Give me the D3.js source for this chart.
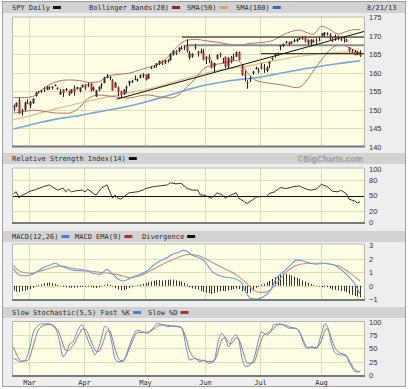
<!DOCTYPE html>
<html>
<head>
<meta charset="utf-8">
<script src="https://cdn.jsdelivr.net/npm/d3@7"></script>
<style>
  html, body { margin: 0; padding: 0; background: #fff; }
  svg { display: block; }
</style>
</head>
<body>
<div id="chart"></div>
<script>
// ---- data (SPY daily, 2/21/13 - 8/21/13) ----
const dates = [
  "2013-02-21","2013-02-22","2013-02-25","2013-02-26","2013-02-27","2013-02-28",
  "2013-03-01","2013-03-04","2013-03-05","2013-03-06","2013-03-07","2013-03-08","2013-03-11","2013-03-12","2013-03-13","2013-03-14",
  "2013-03-15","2013-03-18","2013-03-19","2013-03-20","2013-03-21","2013-03-22","2013-03-25","2013-03-26","2013-03-27","2013-03-28",
  "2013-04-01","2013-04-02","2013-04-03","2013-04-04","2013-04-05","2013-04-08","2013-04-09","2013-04-10","2013-04-11","2013-04-12",
  "2013-04-15","2013-04-16","2013-04-17","2013-04-18","2013-04-19","2013-04-22","2013-04-23","2013-04-24","2013-04-25","2013-04-26",
  "2013-04-29","2013-04-30",
  "2013-05-01","2013-05-02","2013-05-03","2013-05-06","2013-05-07","2013-05-08","2013-05-09","2013-05-10","2013-05-13","2013-05-14",
  "2013-05-15","2013-05-16","2013-05-17","2013-05-20","2013-05-21","2013-05-22","2013-05-23","2013-05-24","2013-05-28","2013-05-29",
  "2013-05-30","2013-05-31",
  "2013-06-03","2013-06-04","2013-06-05","2013-06-06","2013-06-07","2013-06-10","2013-06-11","2013-06-12","2013-06-13","2013-06-14",
  "2013-06-17","2013-06-18","2013-06-19","2013-06-20","2013-06-21","2013-06-24","2013-06-25","2013-06-26","2013-06-27","2013-06-28",
  "2013-07-01","2013-07-02","2013-07-03","2013-07-05","2013-07-08","2013-07-09","2013-07-10","2013-07-11","2013-07-12","2013-07-15",
  "2013-07-16","2013-07-17","2013-07-18","2013-07-19","2013-07-22","2013-07-23","2013-07-24","2013-07-25","2013-07-26","2013-07-29",
  "2013-07-30","2013-07-31",
  "2013-08-01","2013-08-02","2013-08-05","2013-08-06","2013-08-07","2013-08-08","2013-08-09","2013-08-12","2013-08-13","2013-08-14",
  "2013-08-15","2013-08-16","2013-08-19","2013-08-20","2013-08-21"
];

const open = [
  151.2,151.0,152.6,149.7,150.0,152.0,
  151.1,151.8,153.7,154.9,154.9,155.9,155.4,156.1,156.0,156.6,155.9,154.1,155.5,155.4,155.0,154.5,156.0,155.6,155.0,156.1,
  156.8,156.6,157.1,155.4,153.6,155.4,156.5,157.2,158.6,158.7,158.0,156.0,156.1,155.1,154.2,155.8,157.1,157.4,158.2,158.1,158.7,159.3,
  159.4,158.4,161.2,161.6,162.0,162.4,163.2,162.8,163.2,163.4,164.8,165.9,165.9,166.5,166.9,167.4,164.1,164.4,167.0,165.8,165.4,165.5,
  163.9,164.4,163.0,161.6,163.8,165.2,163.0,164.4,161.7,164.0,164.1,164.4,165.6,161.6,159.6,157.4,158.3,159.9,161.0,160.6,
  161.9,161.1,160.5,162.5,163.7,164.8,165.0,167.1,167.3,168.2,168.4,168.2,168.5,168.6,169.4,169.6,169.9,168.0,168.0,168.8,168.8,169.0,
  169.9,170.3,170.8,170.4,169.2,169.5,169.7,168.9,169.4,169.0,167.0,165.9,165.7,164.9,165.1
];
const high = [
  151.4,152.0,153.3,150.3,152.2,152.8,
  152.4,153.1,154.9,155.1,155.3,156.1,156.3,156.4,156.4,156.9,156.1,155.6,155.6,155.9,155.2,155.6,156.6,156.2,156.1,156.9,
  156.9,157.3,157.2,156.3,155.4,156.3,157.3,158.9,159.7,159.1,158.3,157.5,156.3,155.2,155.6,156.6,157.9,158.1,159.3,158.5,159.6,159.9,
  159.6,159.8,161.8,162.0,162.6,163.3,163.4,163.5,163.7,165.2,166.1,166.2,166.9,167.4,167.5,169.1,165.9,165.3,167.8,166.0,166.6,166.4,
  164.5,165.0,163.4,162.7,165.1,165.5,164.1,164.4,164.3,164.6,165.2,165.8,165.8,162.2,160.6,158.0,159.1,160.5,161.7,161.4,
  162.6,162.4,161.8,163.0,164.2,165.4,165.5,167.6,167.9,168.6,168.5,168.6,169.2,169.3,169.6,169.9,169.9,169.1,169.1,169.1,169.4,169.8,
  170.8,171.0,171.0,170.7,169.6,170.4,170.1,169.4,169.9,169.3,167.0,166.4,166.2,165.9,166.1
];
const low = [
  149.6,150.7,148.9,148.4,149.6,151.5,
  150.4,151.6,153.6,154.4,154.6,154.8,155.3,155.4,155.5,156.4,155.4,154.1,153.5,155.0,153.7,154.4,153.8,155.5,154.7,156.0,
  155.4,156.1,154.9,155.1,153.5,155.0,155.7,157.2,158.5,158.0,155.2,156.0,153.6,153.4,154.1,154.6,156.4,157.3,158.0,157.6,158.5,158.6,
  158.0,158.4,161.0,161.3,161.4,162.1,162.1,162.4,162.8,163.3,164.7,164.8,165.6,166.3,166.2,165.5,163.6,164.1,166.3,164.4,165.2,163.4,
  162.4,162.7,161.2,160.2,163.6,164.2,162.6,161.3,161.1,162.6,163.4,164.3,163.4,159.2,157.7,155.7,157.5,159.5,160.9,159.9,
  160.9,160.0,160.2,161.3,163.4,164.1,164.6,166.2,167.0,167.9,167.3,167.8,168.2,168.3,168.9,169.0,168.2,167.5,167.3,168.2,167.9,168.5,
  169.9,169.8,170.1,168.9,168.3,168.7,168.8,168.6,168.2,168.3,165.6,165.5,164.8,164.8,164.3
];
const close = [
  150.4,151.9,149.0,149.8,151.9,151.6,
  152.1,153.0,154.6,154.7,155.2,155.5,156.3,156.0,156.2,156.7,155.6,154.9,154.5,155.6,154.0,155.6,154.9,156.2,156.0,156.7,
  156.0,157.0,155.3,156.0,155.3,156.3,156.8,158.7,159.2,158.8,155.2,157.4,154.9,154.0,155.5,156.2,157.8,157.8,158.4,158.2,159.3,159.7,
  158.0,159.7,161.4,161.7,162.6,163.3,162.5,163.4,163.4,165.2,166.0,165.2,166.9,166.7,167.2,165.9,165.4,165.2,166.9,165.2,165.9,163.5,
  164.3,163.6,161.3,162.7,164.8,164.8,163.1,161.7,164.0,162.9,164.4,165.6,163.5,159.4,159.1,157.1,158.6,160.4,161.3,160.4,
  161.3,161.2,161.4,163.0,164.0,165.2,165.2,167.5,167.9,168.5,167.8,168.3,168.9,169.2,169.5,169.1,168.5,168.9,169.0,168.4,168.6,168.7,
  170.7,171.0,170.7,169.6,168.7,169.9,169.3,169.1,169.3,168.4,166.0,165.6,164.8,165.4,164.6
];

// overlays: [day index, value]
const bbUpper = [[0,153.3],[4,153.3],[7,153.6],[10,155.3],[13,156.8],[16,157.7],[20,158.1],[24,157.9],[28,157.4],[31,157.6],
  [34,159.0],[38,159.6],[42,159.9],[46,160.8],[50,161.7],[54,162.9],[57,165.0],[60,167.5],[63,168.8],[66,169.1],[70,168.7],
  [74,168.3],[78,167.8],[82,167.5],[86,168.0],[90,168.2],[94,168.7],[98,170.3],[101,171.2],[104,171.6],[107,170.8],[109,170.4],
  [112,172.6],[115,171.8],[118,170.5],[121,171.2],[124,171.7],[126,171.7]];
const bbLower = [[0,149.1],[4,149.5],[7,149.9],[11,149.6],[16,149.1],[20,149.1],[24,150.6],[27,153.0],[31,154.0],[35,153.7],
  [39,153.3],[42,153.2],[46,153.8],[49,154.0],[53,153.5],[57,153.2],[60,154.0],[63,156.2],[66,158.3],[69,161.0],[72,162.0],
  [77,162.7],[81,163.4],[83,162.5],[85,160.2],[88,158.0],[93,157.2],[98,156.7],[103,156.0],[105,156.6],[107,158.3],[109,160.5],
  [112,163.5],[115,166.2],[118,167.4],[120,167.4],[122,166.8],[126,165.4]];
const sma50 = [[0,147.3],[5,148.2],[10,149.2],[15,150.2],[20,151.1],[25,152.0],[30,152.8],[35,153.6],[40,154.3],[45,155.0],
  [50,155.8],[55,156.8],[60,157.9],[65,159.0],[70,160.0],[75,160.8],[80,161.4],[85,161.8],[90,162.6],[95,163.3],[100,164.0],
  [105,164.6],[110,165.0],[115,165.4],[120,165.6],[126,165.6]];
const sma100 = [[0,144.8],[5,145.7],[10,146.6],[15,147.4],[20,148.0],[25,148.6],[30,149.3],[35,150.0],[40,150.7],[45,151.5],
  [50,152.5],[55,153.6],[60,154.7],[65,155.8],[70,156.7],[75,157.4],[80,158.0],[85,158.4],[90,158.9],[95,159.6],[100,160.3],
  [105,161.0],[110,161.6],[115,162.2],[120,162.7],[126,163.3]];

// drawn support / resistance lines: [start day index, price]
const levels = [[61.2, 169.7], [62.5, 167.5], [90, 165.2]];
const trendLine = [[37.6, 152.9], [127.9, 171.3]];

const rsi = [[0,54],[1,57],[2,45],[3,50],[5,55],[6,58],[8,61],[10,65],[11,67],[13,70],[14,67],[16,60],[18,64],[19,57],[20,62],
  [21,57],[23,59],[25,60],[26,57],[27,62],[29,54],[30,51],[32,64],[33,67],[34,70],[36,45],[37,51],[38,45],[39,43],[42,55],
  [45,57],[47,60],[48,63],[51,67],[53,68],[56,70],[57,74],[59,72],[61,73],[63,64],[65,60],[67,60],[68,51],[69,51],[72,45],
  [74,55],[76,51],[77,45],[79,51],[81,55],[82,45],[84,38],[85,35],[87,42],[88,47],[90,48],[92,48],[93,54],[95,57],[97,65],
  [99,63],[102,67],[104,68],[106,63],[108,60],[110,62],[112,71],[114,67],[116,58],[118,57],[119,60],[121,54],[122,43],
  [124,40],[125,36],[126,38]];

const macd = [[0,1.29],[1.3,0.92],[3.1,0.74],[4.9,0.74],[6.7,0.84],[8.5,1.04],[10.7,1.33],[13.3,1.53],[15.1,1.66],[16.9,1.48],
  [19.4,1.29],[21.6,1.16],[24.1,1.11],[26.7,1.09],[28.9,0.92],[31.4,0.84],[34,1.21],[35.8,0.92],[38,0.5],[39.8,0.35],
  [41.6,0.47],[43.4,0.67],[45.9,0.84],[48.5,1.09],[50.7,1.48],[53.2,1.83],[55.7,2.07],[57.9,2.33],[60.5,2.52],[61.5,2.62],
  [63,2.57],[64.8,2.27],[66.6,2.15],[69,1.9],[72.8,0.95],[76.4,0.67],[80.1,0.55],[82.6,0.3],[84.4,-0.44],[86.2,-0.93],
  [88.4,-0.99],[90.9,-0.81],[93.5,-0.32],[95.6,0.55],[98.2,1.04],[100.7,1.53],[102.9,1.9],[105.5,1.83],[108,1.66],
  [110.2,1.59],[112.7,1.66],[116.4,1.53],[120,1.04],[122.5,0.55],[124.4,0.05],[126,-0.6]];
const macdSignal = [[0,1.53],[1.6,1.16],[4.2,0.96],[6.7,0.92],[8.9,1.04],[12.2,1.24],[15.1,1.41],[17.6,1.46],[20.5,1.33],
  [24.1,1.21],[27.8,1.09],[31.4,0.99],[35,0.92],[38.7,0.79],[42.3,0.59],[45.9,0.74],[49.6,1.09],[53.2,1.48],[56.8,1.83],
  [60.5,2.15],[64.1,2.33],[67.7,2.2],[72.8,1.66],[76.4,1.29],[80.1,0.92],[82.6,0.55],[84.8,0.18],[87.3,-0.32],[89.9,-0.49],
  [92,-0.45],[94.6,-0.07],[97.1,0.55],[99.3,1.04],[101.8,1.41],[104.4,1.59],[108,1.66],[111.7,1.66],[115.3,1.59],
  [118.9,1.41],[122.5,0.92],[126,0.35]];
const divergence = [
  -0.35,-0.45,-0.45,-0.4,-0.35,-0.3,-0.25,-0.15,-0.05,
  0.05,0.12,0.18,0.22,0.24,0.2,0.15,0.08,
  -0.02,-0.08,-0.12,-0.14,-0.15,-0.14,-0.12,-0.1,-0.08,-0.07,-0.05,-0.1,-0.14,-0.16,-0.12,-0.04,0.06,
  0.12,0.08,-0.05,
  -0.18,-0.28,-0.33,-0.32,-0.26,-0.18,-0.08,
  0.02,0.06,0.1,0.15,0.2,0.26,0.32,0.36,0.4,0.42,0.4,0.42,0.44,0.46,0.45,0.4,0.36,0.3,0.22,0.1,
  -0.1,-0.2,-0.25,-0.3,-0.38,-0.45,-0.5,-0.55,-0.6,-0.55,-0.45,-0.4,-0.38,-0.4,-0.35,-0.3,-0.25,-0.2,-0.25,-0.4,-0.5,-0.55,-0.5,-0.35,-0.15,
  0.0,0.1,0.15,0.25,0.35,0.5,0.62,0.72,0.85,0.9,0.88,0.82,0.75,0.68,0.6,0.5,0.4,0.3,0.2,0.12,0.05,0.02,
  -0.05,-0.1,-0.05,-0.1,-0.2,-0.28,-0.3,-0.35,-0.38,-0.4,-0.45,-0.6,-0.68,-0.75,-0.8,-0.85
];

const stochK = [[0,31],[1.3,28],[2.4,25],[4.2,28],[6,53],[7.1,78],[8.5,91],[10.3,96],[12.5,96],[14.3,92],[15.8,81],[16.9,59],
  [18,34],[19.4,44],[20.5,59],[21.6,62],[23.4,84],[24.9,94],[26,81],[27,66],[28.5,50],[29.6,38],[30.7,47],[32.1,72],
  [33.2,91],[34.3,88],[35.8,59],[36.9,31],[38,25],[39.8,25],[41.6,47],[43.4,72],[45.2,84],[47,81],[48.8,78],[50.7,88],
  [52.5,97],[54.3,94],[56.1,91],[57.9,92],[60.5,91],[61.5,84],[63,47],[64.1,28],[65.9,31],[67.7,25],[69.2,28],[71,22],
  [72.8,25],[74.6,66],[75.7,78],[77.2,66],[78.3,53],[79.3,66],[80.8,75],[81.9,66],[83,34],[84.4,16],[86.2,19],[88,41],
  [89.1,66],[90.2,81],[92,75],[93.5,81],[94.6,94],[96.4,96],[98.2,94],[100,88],[101.8,88],[103.7,84],[105.5,59],[106.6,50],
  [108.4,53],[110.2,50],[112,78],[113.4,96],[114.6,84],[115.6,59],[117.1,41],[118.9,38],[120.7,36],[122.5,19],[124.4,6],
  [125.4,6],[126.2,8]];
const stochD = [[0,52],[1,40],[2,30],[3,26],[5,27],[6,35],[7,52],[8,70],[9,84],[11,93],[13,95],[15,91],[16,85],[17,74],[18,58],
  [19,46],[20,46],[21,52],[22,58],[23,68],[24,78],[25,86],[26,86],[27,79],[28,66],[29,54],[30,45],[31,44],[32,53],[33,68],
  [34,82],[35,83],[36,67],[37,48],[38,33],[39,27],[40,28],[41,35],[42,48],[43,60],[44,72],[45,79],[47,80],[49,81],[51,86],
  [53,93],[55,94],[57,92],[59,91],[61,89],[62,80],[63,65],[64,46],[65,36],[67,29],[69,27],[71,25],[73,27],[74,38],[75,55],
  [76,68],[77,70],[78,62],[79,58],[80,64],[81,70],[82,66],[83,52],[84,35],[85,22],[87,22],[88,30],[89,48],[90,64],[91,75],
  [92,78],[94,84],[95,90],[97,95],[99,93],[101,89],[103,87],[104,80],[105,70],[106,58],[107,52],[109,51],[111,55],[112,65],
  [113,80],[114,87],[115,78],[116,62],[117,50],[119,41],[121,37],[122,28],[123,18],[124,11],[125,7],[126,6]];

// axis tick labels
const priceTicks = [140, 145, 150, 155, 160, 165, 170, 175];
const rsiTicks = [0, 20, 50, 80, 100];
const macdTicks = [-1, 0, 1, 2, 3];
const stochTicks = [0, 25, 50, 75, 100];

// ---- layout ----
const W = 408, H = 389;
const plotL = 12, plotR = 365;
const MONO = "'DejaVu Sans Mono', monospace";

const svg = d3.select("#chart").append("svg")
  .attr("width", W).attr("height", H)
  .style("background", "#fff");

// outer frame
svg.append("rect")
  .attr("x", 2.5).attr("y", 1.5).attr("width", 403).attr("height", 385)
  .attr("fill", "#eeeeee").attr("stroke", "#a0a0a0");

const x = d3.scaleLinear().domain([0, dates.length - 1]).range([13.5, 360]);

const panels = [
  { name: "price", top: 16.5, bottom: 146.5, head: 2,
    y: d3.scaleLinear().domain([140, 175]).range([146.7, 17.5]), grid: [145, 150, 155, 160, 165, 170], ticks: priceTicks },
  { name: "rsi", top: 167.5, bottom: 223, head: 153,
    y: d3.scaleLinear().domain([0, 100]).range([222, 169]), grid: [20, 80], ticks: rsiTicks },
  { name: "macd", top: 243.5, bottom: 300, head: 231,
    y: d3.scaleLinear().domain([-1, 3]).range([299.3, 245.2]), grid: [0, 1, 2], ticks: macdTicks },
  { name: "stoch", top: 321, bottom: 376, head: 307,
    y: d3.scaleLinear().domain([0, 100]).range([375, 321.7]), grid: [25, 50, 75], ticks: stochTicks },
];
const P = {};
panels.forEach(p => (P[p.name] = p));

// first trading day of each month -> vertical grid + labels
const parse = d3.timeParse("%Y-%m-%d");
const monthStarts = [];
dates.forEach((d, i) => {
  if (i > 0 && d.slice(5, 7) !== dates[i - 1].slice(5, 7)) monthStarts.push(i);
});
const monthX = i => Math.round(x(i) - 0.8) + 0.5;

// panel backgrounds, grids, axes
panels.forEach(p => {
  svg.append("rect")
    .attr("x", 3).attr("y", p.head).attr("width", 402).attr("height", 11)
    .attr("fill", "#d2d2d2");

  svg.append("rect")
    .attr("x", plotL).attr("y", p.top).attr("width", plotR - plotL).attr("height", p.bottom - p.top)
    .attr("fill", "#fffde4");

  const g = svg.append("g").attr("stroke", "#e0dbba").attr("stroke-width", 1);
  p.grid.forEach(v => {
    const yy = Math.round(p.y(v)) + 0.5;
    g.append("line").attr("x1", plotL).attr("x2", plotR).attr("y1", yy).attr("y2", yy);
  });
  monthStarts.forEach(i => {
    g.append("line").attr("x1", monthX(i)).attr("x2", monthX(i)).attr("y1", p.top).attr("y2", p.bottom);
  });

  // right-hand value axis
  const ax = svg.append("g")
    .attr("transform", `translate(367,0)`)
    .call(d3.axisRight(p.y).tickValues(p.ticks).tickSize(0).tickPadding(2).tickFormat(d3.format("d")));
  ax.select(".domain").remove();
  ax.selectAll("text")
    .attr("fill", "#333")
    .style("font-family", "'Liberation Sans', Arial, sans-serif")
    .style("font-size", "7.5px");
});

// clip for plot areas
panels.forEach(p => {
  svg.append("clipPath").attr("id", "clip-" + p.name)
    .append("rect").attr("x", plotL).attr("y", p.top).attr("width", plotR - plotL).attr("height", p.bottom - p.top);
});

const lineOf = y => d3.line().x(d => x(d[0])).y(d => y(d[1])).curve(d3.curveMonotoneX);

// ---- price panel ----
const yP = P.price.y;
const pg = svg.append("g").attr("clip-path", "url(#clip-price)");

pg.append("path").datum(sma100).attr("d", lineOf(yP))
  .attr("fill", "none").attr("stroke", "#79a7d9").attr("stroke-width", 1.6);
pg.append("path").datum(sma50).attr("d", lineOf(yP))
  .attr("fill", "none").attr("stroke", "#dcc596").attr("stroke-width", 1.4);
[bbUpper, bbLower].forEach(b => {
  pg.append("path").datum(b).attr("d", lineOf(yP))
    .attr("fill", "none").attr("stroke", "#b4746a").attr("stroke-width", 1);
});

// support / resistance and trend lines
const lvlColors = ["#111", "#8c8c8c", "#111"];
const lvlWidths = [1, 2, 1];
levels.forEach((l, k) => {
  pg.append("line")
    .attr("x1", x(l[0])).attr("x2", plotR)
    .attr("y1", yP(l[1])).attr("y2", yP(l[1]))
    .attr("stroke", lvlColors[k]).attr("stroke-width", lvlWidths[k]);
});
pg.append("line")
  .attr("x1", x(trendLine[0][0])).attr("y1", yP(trendLine[0][1]))
  .attr("x2", x(trendLine[1][0])).attr("y2", yP(trendLine[1][1]))
  .attr("stroke", "#111").attr("stroke-width", 1);

// candles
const candles = pg.append("g");
dates.forEach((d, i) => {
  const cx = Math.round(x(i));
  const up = close[i] >= open[i];
  candles.append("line")
    .attr("x1", cx + 0.5).attr("x2", cx + 0.5)
    .attr("y1", yP(high[i])).attr("y2", yP(low[i]))
    .attr("stroke", "#222").attr("stroke-width", 1);
  const top = yP(Math.max(open[i], close[i]));
  const h = Math.max(1, Math.abs(yP(open[i]) - yP(close[i])));
  candles.append("rect")
    .attr("x", cx - 0.5).attr("y", top).attr("width", 2).attr("height", h)
    .attr("fill", up ? "#333" : "#b8292b");
});

// ---- RSI panel ----
const yR = P.rsi.y;
const rg = svg.append("g").attr("clip-path", "url(#clip-rsi)");
rg.append("line").attr("x1", plotL).attr("x2", plotR)
  .attr("y1", Math.round(yR(50)) + 0.5).attr("y2", Math.round(yR(50)) + 0.5)
  .attr("stroke", "#111").attr("stroke-width", 1.2);
rg.append("path").datum(rsi).attr("d", lineOf(yR).curve(d3.curveLinear))
  .attr("fill", "none").attr("stroke", "#222").attr("stroke-width", 0.9);

// ---- MACD panel ----
const yM = P.macd.y;
const mg = svg.append("g").attr("clip-path", "url(#clip-macd)");
divergence.forEach((v, i) => {
  const cx = Math.round(x(i)) + 0.5;
  mg.append("line")
    .attr("x1", cx).attr("x2", cx)
    .attr("y1", yM(0)).attr("y2", v === 0 ? yM(0) + 1 : yM(v))
    .attr("stroke", "#333").attr("stroke-width", 1);
});
mg.append("path").datum(macdSignal).attr("d", lineOf(yM))
  .attr("fill", "none").attr("stroke", "#c9907f").attr("stroke-width", 1.1);
mg.append("path").datum(macd).attr("d", lineOf(yM))
  .attr("fill", "none").attr("stroke", "#6d9fd8").attr("stroke-width", 1.1);

// ---- Stochastic panel ----
const yS = P.stoch.y;
const sg = svg.append("g").attr("clip-path", "url(#clip-stoch)");
sg.append("path").datum(stochD).attr("d", lineOf(yS))
  .attr("fill", "none").attr("stroke", "#b86a66").attr("stroke-width", 1);
sg.append("path").datum(stochK).attr("d", lineOf(yS))
  .attr("fill", "none").attr("stroke", "#5a8fd6").attr("stroke-width", 1);

// plot borders (bottom edge darker)
panels.forEach(p => {
  svg.append("path")
    .attr("d", `M${plotL + 0.5},${p.bottom} V${p.top + 0.5} H${plotR - 0.5} V${p.bottom}`)
    .attr("fill", "none").attr("stroke", "#b5b5b5").attr("stroke-width", 1);
  svg.append("line")
    .attr("x1", plotL).attr("x2", plotR).attr("y1", p.bottom).attr("y2", p.bottom)
    .attr("stroke", "#7a7a7a").attr("stroke-width", 2);
});

// ---- headers / legends ----
function header(p, items) {
  items.forEach(it => {
    const t = svg.append("text")
      .attr("x", it.x).attr("y", p.head + 8.3)
      .style("font-family", MONO).style("font-size", "7px")
      .attr("fill", "#2a2a2a")
      .text(it.label);
    if (it.color) {
      const w = t.node().getComputedTextLength();
      svg.append("rect")
        .attr("x", it.x + w + 3).attr("y", p.head + 4).attr("width", 8).attr("height", 3)
        .attr("fill", it.color);
    }
  });
}
header(P.price, [
  { label: "SPY Daily", x: 12, color: "#111" },
  { label: "Bollinger Bands(20)", x: 89, color: "#8e2424" },
  { label: "SMA(50)", x: 187, color: "#c9a866" },
  { label: "SMA(100)", x: 236, color: "#2f6cb8" },
  { label: d3.timeFormat("%-m/%d/%y")(parse(dates[dates.length - 1])), x: 367 },
]);
header(P.rsi, [{ label: "Relative Strength Index(14)", x: 12, color: "#111" }]);
header(P.macd, [
  { label: "MACD(12,26)", x: 12, color: "#3f83d6" },
  { label: "MACD EMA(9)", x: 75, color: "#a93434" },
  { label: "Divergence", x: 142, color: "#111" },
]);
header(P.stoch, [
  { label: "Slow Stochastic(5,5) Fast %K", x: 12, color: "#3f83d6" },
  { label: "Slow %D", x: 148, color: "#a93434" },
]);

// watermark
svg.append("text")
  .attr("x", 363).attr("y", P.rsi.head + 8.6)
  .attr("text-anchor", "end")
  .style("font-family", "'Liberation Sans', Arial, sans-serif")
  .style("font-size", "8.4px").style("font-weight", "bold")
  .attr("fill", "#9d9d9d")
  .text("\u00A9BigCharts.com");

// month labels
const fmtMonth = d3.timeFormat("%b");
monthStarts.forEach(i => {
  svg.append("text")
    .attr("x", monthX(i)).attr("y", 384.5)
    .attr("text-anchor", "middle")
    .style("font-family", MONO).style("font-size", "7px")
    .attr("fill", "#2a2a2a")
    .text(fmtMonth(parse(dates[i])));
});
</script>
</body>
</html>
